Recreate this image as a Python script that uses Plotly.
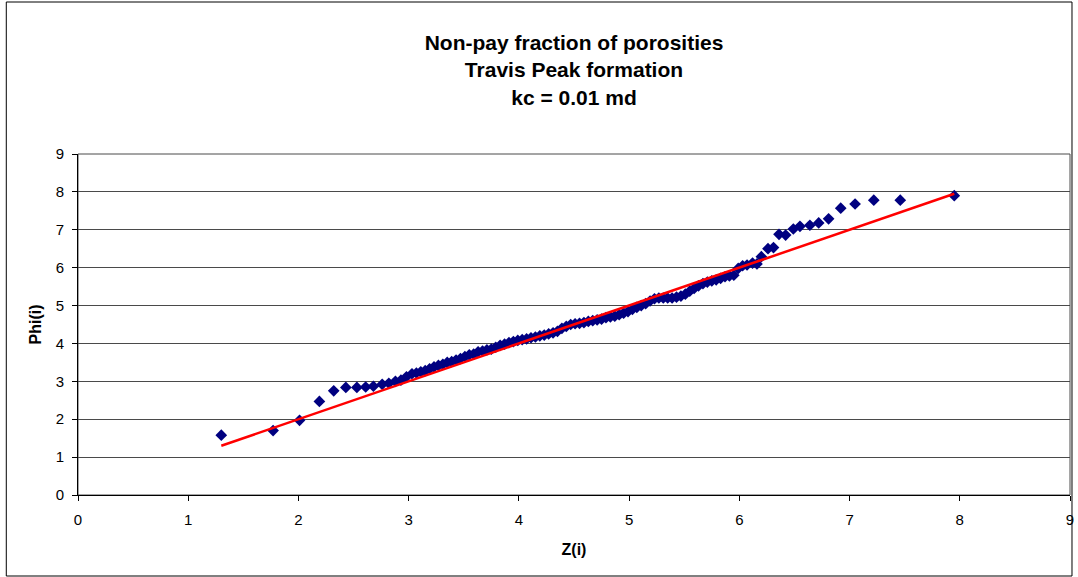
import plotly.graph_objects as go

# Normal scores Z(i) and sorted non-pay porosities Phi(i)
z_scores = [
    1.30, 1.77, 2.01, 2.19, 2.32, 2.43, 2.53, 2.61, 2.68, 2.76, 2.82, 2.88, 2.93, 2.98, 3.03,
    3.07, 3.11, 3.15, 3.19, 3.23, 3.27, 3.31, 3.35, 3.39, 3.43, 3.47, 3.51, 3.55, 3.59, 3.63,
    3.67, 3.71, 3.75, 3.79, 3.83, 3.87, 3.91, 3.95, 3.99, 4.03, 4.07, 4.11, 4.15, 4.19, 4.23,
    4.27, 4.31, 4.35, 4.39, 4.43, 4.47, 4.51, 4.55, 4.59, 4.63, 4.67, 4.71, 4.75, 4.79, 4.83,
    4.87, 4.91, 4.95, 4.99, 5.03, 5.07, 5.11, 5.15, 5.19, 5.23, 5.27, 5.31, 5.35, 5.39, 5.43,
    5.47, 5.51, 5.55, 5.59, 5.63, 5.67, 5.71, 5.75, 5.79, 5.83, 5.87, 5.91, 5.95,
    5.99, 6.03, 6.07, 6.12, 6.16, 6.20, 6.26, 6.31, 6.36, 6.42, 6.49, 6.55, 6.64, 6.72, 6.81,
    6.92, 7.05, 7.22, 7.46, 7.95,
]
phi_values = [
    1.58, 1.70, 1.97, 2.47, 2.75, 2.84, 2.84, 2.85, 2.87, 2.92, 2.95, 3.00, 3.03, 3.12, 3.20,
    3.22, 3.25, 3.28, 3.33, 3.38, 3.42, 3.45, 3.50, 3.52, 3.56, 3.60, 3.65, 3.70, 3.72, 3.78,
    3.80, 3.83, 3.85, 3.90, 3.95, 3.98, 4.02, 4.05, 4.08, 4.10, 4.12, 4.15, 4.17, 4.20, 4.22,
    4.25, 4.28, 4.32, 4.40, 4.45, 4.50, 4.52, 4.53, 4.55, 4.58, 4.60, 4.62, 4.64, 4.68, 4.70,
    4.72, 4.76, 4.80, 4.84, 4.90, 4.95, 5.00, 5.05, 5.12, 5.18, 5.20, 5.20, 5.20, 5.20, 5.22,
    5.25, 5.30, 5.38, 5.45, 5.52, 5.58, 5.62, 5.65, 5.68, 5.72, 5.76, 5.78, 5.80,
    5.98, 6.05, 6.07, 6.12, 6.10, 6.29, 6.50, 6.53, 6.88, 6.86, 7.02, 7.09, 7.12, 7.18, 7.29,
    7.57, 7.68, 7.78, 7.78, 7.90,
]

# Reference line Phi = Z over the range of the normal scores
line_z = [1.30, 7.95]
line_phi = [1.30, 7.95]

title_lines = ["Non-pay fraction of porosities", "Travis Peak formation", "kc = 0.01 md"]
tick_vals = [0, 1, 2, 3, 4, 5, 6, 7, 8, 9]

fig = go.Figure()
fig.add_trace(go.Scatter(
    x=z_scores, y=phi_values, mode="markers",
    marker=dict(symbol="diamond", size=9, color="#000080", line=dict(width=0)),
    showlegend=False, cliponaxis=False,
))
fig.add_trace(go.Scatter(
    x=line_z, y=line_phi, mode="lines",
    line=dict(color="#ff0000", width=2.5),
    showlegend=False,
))

font_family = "Liberation Sans, Arial, sans-serif"

fig.update_layout(
    width=1078, height=577,
    margin=dict(l=78, r=4, t=154, b=82),
    paper_bgcolor="white", plot_bgcolor="white",
    font=dict(family=font_family, color="black", size=14),
    title=dict(
        text="<br>".join(title_lines),
        x=0.5, xanchor="center", xref="paper",
        y=1 - 50 / 577, yanchor="top",
        font=dict(family=font_family, size=21, color="black", weight="bold"),
    ),
    xaxis=dict(
        range=[0, 9], tickvals=tick_vals, showgrid=False, zeroline=False,
        showline=True, linecolor="black", linewidth=1,
        ticks="outside", ticklen=5, tickcolor="black",
        tickfont=dict(size=15), ticklabelstandoff=6, ticklabeloverflow="allow",
        title=dict(text="<b>Z(i)</b>", font=dict(size=16), standoff=16),
    ),
    yaxis=dict(
        range=[0, 9], tickvals=tick_vals, showgrid=True, gridcolor="#4a4a4a", gridwidth=1,
        zeroline=False, showline=True, linecolor="black", linewidth=1,
        ticks="outside", ticklen=5, tickcolor="black",
        tickfont=dict(size=15), ticklabelstandoff=5,
        title=dict(text="<b>Phi(i)</b>", font=dict(size=16), standoff=10),
    ),
    shapes=[
        # plot area frame
        dict(type="rect", xref="paper", yref="paper", x0=0, x1=1, y0=0, y1=1,
             line=dict(color="#4a4a4a", width=1), layer="below"),
        # chart area frame
        dict(type="rect", xref="paper", yref="paper",
             x0=(6 - 78) / 996, x1=(1076 - 78) / 996,
             y0=(495 - 576) / 341, y1=(495 - 2) / 341,
             line=dict(color="black", width=1)),
    ],
)

fig.write_html("out.html")
